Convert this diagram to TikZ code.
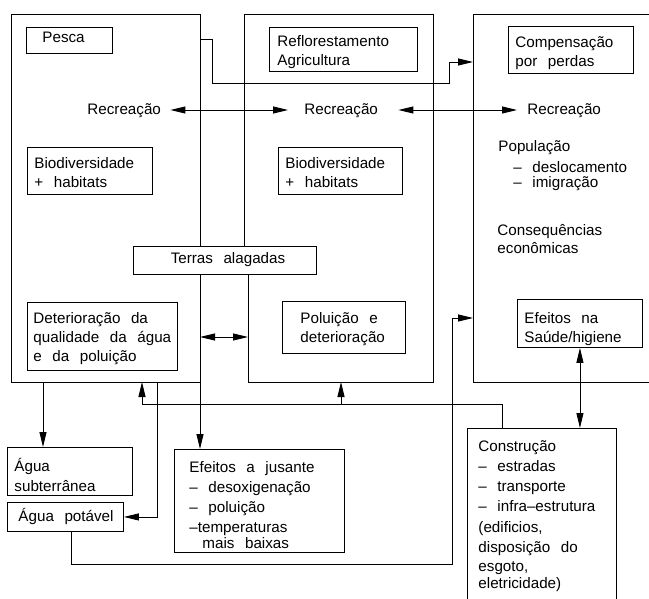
\documentclass[tikz,border=0pt]{standalone}
\usepackage{fontspec}
\setmainfont{Liberation Sans}[WordSpace=2.5]
\usetikzlibrary{arrows.meta}
\begin{document}
\begin{tikzpicture}[x=1pt,y=-1pt,line width=0.9pt,font=\fontsize{15.2}{20}\selectfont]
\tikzset{
 bx/.style={draw, fill=white, inner sep=0pt, anchor=north west},
 frame/.style={draw, inner sep=0pt, anchor=north west},
 tx/.style={inner sep=0pt, anchor=base west, align=left},
 tc/.style={inner sep=0pt, anchor=base},
 arr/.style={-{Triangle[length=15pt,width=7pt]}},
 darr/.style={{Triangle[length=15pt,width=7pt]}-{Triangle[length=15pt,width=7pt]}},
}
\useasboundingbox (0,0) rectangle (649,599);
% big frames
\node[frame, minimum width=189pt, minimum height=368pt] (b1) at (11,14) {};
\node[frame, minimum width=200pt, minimum height=368pt] (b3) at (473,14) {};
\coordinate (b2a) at (244,246);
\coordinate (b2b) at (244,14);
\coordinate (b2c) at (433,14);
\coordinate (b2d) at (433,382);
\coordinate (b2e) at (248,382);
\coordinate (b2f) at (248,274);
\draw (b2a) -- (b2b) -- (b2c) -- (b2d) -- (b2e) -- (b2f);
% inner boxes
\node[bx, minimum width=86pt, minimum height=26pt] (pesca) at (26,27) {};
\node[bx, minimum width=148pt, minimum height=44pt] (refl) at (269,27) {};
\node[bx, minimum width=125pt, minimum height=47pt] (comp) at (508,26) {};
\node[bx, minimum width=125pt, minimum height=47pt] (bio1) at (27,147) {};
\node[bx, minimum width=124pt, minimum height=47pt] (bio2) at (278,147) {};
\node[bx, minimum width=183pt, minimum height=28pt] (terras) at (133,246) {};
\node[bx, minimum width=150pt, minimum height=68pt] (det) at (27,302) {};
\node[bx, minimum width=123pt, minimum height=52pt] (pol) at (282,301) {};
\node[bx, minimum width=125pt, minimum height=48pt] (sau) at (517,299) {};
\node[bx, minimum width=125pt, minimum height=48pt] (sub) at (7,447) {};
\node[bx, minimum width=116pt, minimum height=29pt] (pot) at (7,502) {};
\node[bx, minimum width=170pt, minimum height=103pt] (jus) at (174,449) {};
\node[bx, minimum width=149pt, minimum height=185pt] (cons) at (467,428) {};
% texts (anchor = baseline of the last line)
\node[tx] (tpesca) at (42,43) {Pesca};
\node[tx] (trefl) at (277,66) {Reflorestamento\\[-1pt]Agricultura};
\node[tx] (tcomp) at (515,67) {Compensação\\[-1pt]por perdas};
\node[tx] (r1) at (87,115) {Recreação};
\node[tx] (r2) at (304,115) {Recreação};
\node[tx] (r3) at (527,115) {Recreação};
\node[tx] (tbio1) at (34,188) {Biodiversidade\\[-1pt]+ habitats};
\node[tx] (tbio2) at (285,188) {Biodiversidade\\[-1pt]+ habitats};
\node[tx] (tpop) at (498,188) {População\\[1pt]\hspace*{15pt}– deslocamento\\[-5pt]\hspace*{15pt}– imigração};
\node[tx] (tcq) at (497,254) {Consequências\\[-2pt]econômicas};
\node[tc] (tterras) at (228,264) {Terras alagadas};
\node[tx] (tdet) at (33,362) {Deterioração da\\qualidade da água\\[-1pt]e da poluição};
\node[tx] (tpol) at (300,342) {Poluição e\\[-1pt]deterioração};
\node[tx] (tsau) at (524,343) {Efeitos na\\Saúde/higiene};
\node[tx] (tsub) at (14,491) {Água\\subterrânea};
\node[tc] (tpot) at (66,521) {Água potável};
\node[tx] (tjus) at (189,548) {Efeitos a jusante\\– desoxigenação\\– poluição\\–temperaturas\\[-4pt]\hspace*{13pt}mais baixas};
\node[tx] (tcon) at (478,588) {Construção\\– estradas\\– transporte\\– infra–estrutura\\[1pt](edificios,\\disposição do\\[-1pt]esgoto,\\[-3pt]eletricidade)};
% connectors
\draw[darr] ([xshift=9pt]r1.east |- 0,110) -- ([xshift=-16pt]r2.west |- 0,110);
\draw[darr] ([xshift=20pt]r2.east |- 0,110) -- ([xshift=-10pt]r3.west |- 0,110);
\coordinate (p0) at (200,39);
\coordinate (q1) at (473,62);
\draw[arr] (p0) -| (212,83) -| (449,62) -- (q1);
\coordinate (m1) at (200,337);
\coordinate (m2) at (248,337);
\draw[darr] (m1) -- (m2);
\draw[arr] (terras.south -| p0) -- (jus.north -| p0);
\coordinate (s0) at (43,382);
\draw[arr] (s0) -- (s0 |- sub.north);
\coordinate (t0) at (157,382);
\draw[arr] (t0) |- (pot.east);
\coordinate (c0) at (502,404);
\coordinate (u1) at (142,382);
\coordinate (u2) at (341,382);
\draw[arr] (cons.north -| c0) -- (c0) -- (u1 |- c0) -- (u1);
\draw[arr] (u2 |- c0) -- (u2);
\coordinate (w0) at (71,564);
\coordinate (w1) at (452,318);
\coordinate (w2) at (473,318);
\draw[arr] (pot.south -| w0) -- (w0) -| (w1) -- (w2);
\draw[darr] (sau.south) -- (sau.south |- cons.north);
\end{tikzpicture}
\end{document}
